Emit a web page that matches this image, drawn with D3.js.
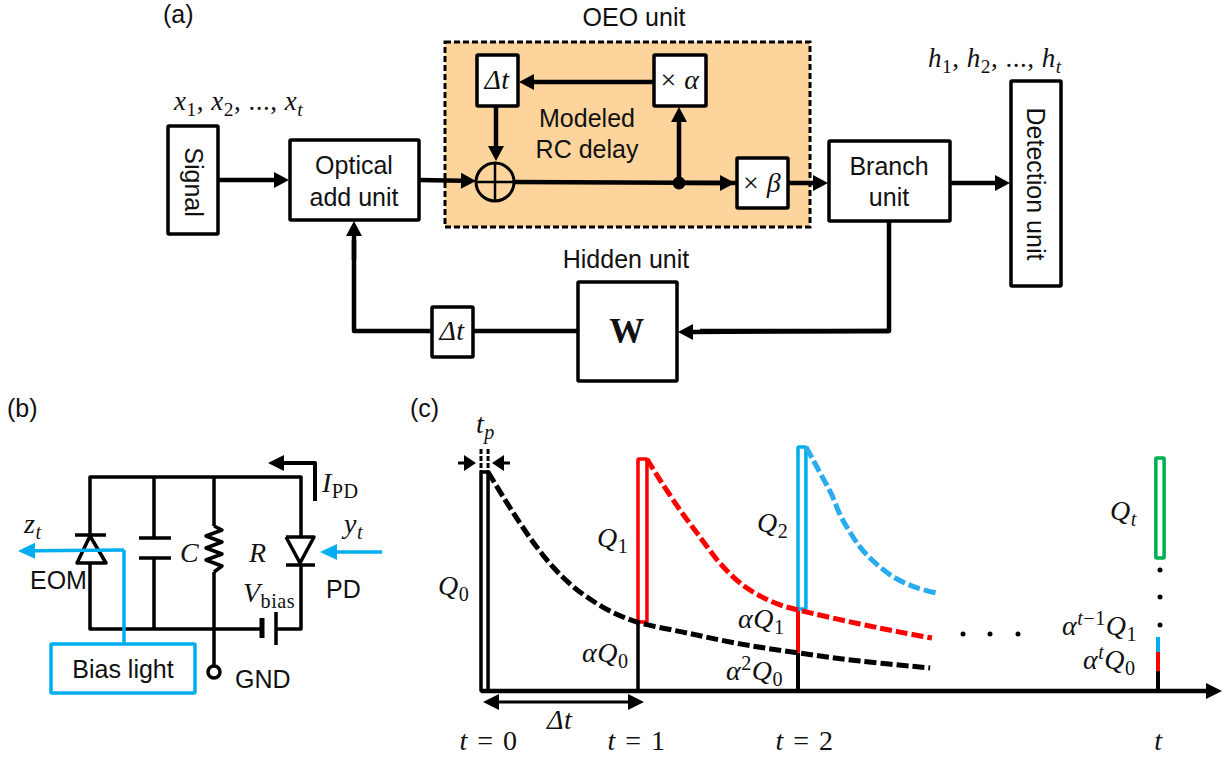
<!DOCTYPE html>
<html>
<head>
<meta charset="utf-8">
<script src="https://cdnjs.cloudflare.com/ajax/libs/d3/7.8.5/d3.min.js"></script>
<style>
html, body { margin: 0; padding: 0; background: #fff; }
svg { display: block; }
text { font-family: "Liberation Sans", Arial, sans-serif; font-size: 25px; fill: #111; }
.m, .m tspan { font-family: "Liberation Serif", serif; letter-spacing: 0.5px; }
</style>
</head>
<body>
<svg id="fig" width="1225" height="758"></svg>
<script>
'use strict';

// panel (c): time axis, t index 3 is the far "t" tick (axis is broken after t = 2)
var tickTimes = [0, 1, 2, 3];
var tickLabels = ['t = 0', 't = 1', 't = 2', 't'];

// decay curves, charge normalised to Q0 = 1
var blackTimes = [0.045, 0.146, 0.248, 0.35, 0.459, 0.567, 0.675, 0.822, 0.994, 1.306, 1.638, 2, 2.172, 2.367];
var blackCharge = [1, 0.881, 0.767, 0.662, 0.566, 0.489, 0.429, 0.365, 0.315, 0.265, 0.215, 0.174, 0.137, 0.105];
var redTimes = [1.056, 1.138, 1.263, 1.369, 1.512, 1.638, 1.763, 1.888, 2, 2.172, 2.283, 2.372];
var redCharge = [1.059, 0.963, 0.826, 0.721, 0.584, 0.493, 0.434, 0.393, 0.37, 0.306, 0.269, 0.242];
var blueTimes = [2.022, 2.042, 2.069, 2.094, 2.117, 2.144, 2.172, 2.2, 2.228, 2.261, 2.297, 2.333, 2.386];
var blueCharge = [1.114, 1.055, 0.973, 0.895, 0.804, 0.726, 0.658, 0.607, 0.566, 0.525, 0.493, 0.47, 0.447];

// pulses: start time, end time, bottom and top charge
var pulseStart = [0, 1, 2, 2.994];
var pulseEnd = [0.045, 1.056, 2.022, 3.017];
var pulseLow = [0, 0.315, 0.374, 0.607];
var pulseHigh = [1, 1.059, 1.114, 1.064];

// stacked stems under the later pulses
var stem1Levels = [0, 0.315];
var stem2Levels = [0, 0.174, 0.374];
var stem3Levels = [0, 0.091, 0.178, 0.247];

var svg = d3.select('#fig');
var BLUE = '#00aeef', RED = '#ff0000', GREEN = '#00b050', BLACK = '#000', ORANGE = '#fdd49b';
var MATH = 28;

var defsLine = d3.line();

function line(g, pts, w, col) {
    return g.append('path').attr('d', defsLine(pts)).attr('fill', 'none')
        .attr('stroke', col || BLACK).attr('stroke-width', w || 4.5)
        .attr('stroke-linejoin', 'round');
}

// straight arrow with solid head; tip lands on the last point
function arrow(g, pts, w, col, len, half) {
    col = col || BLACK; len = len || 15; half = half || 8;
    var n = pts.length, a = pts[n - 2], b = pts[n - 1],
        d = Math.hypot(b[0] - a[0], b[1] - a[1]),
        ux = (b[0] - a[0]) / d, uy = (b[1] - a[1]) / d,
        base = [b[0] - ux * len, b[1] - uy * len],
        shaft = pts.slice(0, n - 1).concat([[base[0] + ux, base[1] + uy]]);
    line(g, shaft, w || 4.5, col);
    g.append('path').attr('fill', col).attr('d', defsLine([
        b,
        [base[0] - uy * half, base[1] + ux * half],
        [base[0] + uy * half, base[1] - ux * half]
    ]) + 'Z');
}

function box(g, x0, y0, x1, y1, col, w) {
    return g.append('rect').attr('x', x0).attr('y', y0).attr('width', x1 - x0).attr('height', y1 - y0)
        .attr('rx', 1).attr('fill', '#fff').attr('stroke', col || BLACK).attr('stroke-width', w || 3.5);
}

function label(g, s, x, y, anchor, rot) {
    var t = g.append('text').attr('text-anchor', anchor || 'middle').text(s);
    if (rot) t.attr('transform', 'translate(' + x + ',' + y + ') rotate(' + rot + ')');
    else t.attr('x', x).attr('y', y);
    return t;
}

// small math markup: _{..} sub, ^{..} sup, _[..] upright sub; letters italic
function mathInto(t, s, size) {
    var re = /([_^])([{\[])([^}\]]*)[}\]]|[^_^]+/g, m, shift = 0;
    var add = function(str, fs, dy, upright) {
        str.split(/(\s+)/).forEach(function(chunk) {
            if (!chunk) return;
            chunk.match(/[A-Za-zαβΔ]+|[^A-Za-zαβΔ]+/g).forEach(function(p) {
                var sp = t.append('tspan').attr('xml:space', 'preserve').text(p);
                sp.style('font-size', fs + 'px');
                if (!upright && /[A-Za-zαβΔ]/.test(p)) sp.attr('font-style', 'italic');
                if (dy) { sp.attr('dy', dy); dy = 0; }
            });
        });
    };
    while ((m = re.exec(s))) {
        if (m[1]) {
            var off = m[1] === '_' ? size * 0.22 : -size * 0.34;
            add(m[3], size * 0.72, off, m[2] === '[');
            shift = off;
        } else {
            add(m[0], size, -shift, false);
            shift = 0;
        }
    }
}

function math(g, s, x, y, size, anchor) {
    var t = g.append('text').attr('class', 'm').attr('x', x).attr('y', y)
        .attr('text-anchor', anchor || 'start');
    mathInto(t, s, size || MATH);
    return t;
}

/* ================ panel (a) */
var a = svg.append('g');
label(a, '(a)', 163, 23, 'start');

a.append('rect').attr('x', 445).attr('y', 42).attr('width', 365).attr('height', 185)
    .attr('fill', ORANGE).attr('stroke', BLACK).attr('stroke-width', 3).attr('stroke-dasharray', '6 3');
label(a, 'OEO unit', 634, 26);

// connectors go under the boxes
arrow(a, [[218, 180], [289, 180]]);
arrow(a, [[419, 180], [476, 181]]);
line(a, [[514, 182], [737, 183]]);
arrow(a, [[679, 183], [735, 183]]);
arrow(a, [[679, 183], [679, 107]]);
arrow(a, [[654, 82], [519, 82]]);
arrow(a, [[496, 106], [496, 161]]);
arrow(a, [[788, 183], [828, 183]]);
arrow(a, [[950, 183], [1010, 183]]);
line(a, [[889, 221], [889, 331], [700, 331]]);
arrow(a, [[889, 331], [678, 332]]);
line(a, [[578, 331], [354, 331], [354, 240]]);
arrow(a, [[354, 260], [354, 221]]);

a.append('circle').attr('cx', 679).attr('cy', 183).attr('r', 6.5).attr('fill', BLACK);
a.append('circle').attr('cx', 495).attr('cy', 182).attr('r', 19)
    .attr('fill', ORANGE).attr('stroke', BLACK).attr('stroke-width', 3);
line(a, [[477, 182], [513, 182]], 2.5);
line(a, [[495, 164], [495, 200]], 2.5);

box(a, 168, 126, 218, 234);
box(a, 290, 140, 419, 220);
box(a, 477, 55, 518, 106);
box(a, 654, 55, 706, 106);
box(a, 737, 158, 788, 208);
box(a, 829, 141, 950, 221);
box(a, 1011, 81, 1061, 286);
box(a, 578, 282, 677, 381);
box(a, 432, 307, 473, 357);

label(a, 'Signal', 185, 182, 'middle', 90);
label(a, 'Detection unit', 1027, 184, 'middle', 90);
label(a, 'Optical', 354, 174);
label(a, 'add unit', 354, 206);
label(a, 'Modeled', 587, 127);
label(a, 'RC delay', 587, 158);
label(a, 'Branch', 889, 175);
label(a, 'unit', 889, 206);
label(a, 'Hidden unit', 626, 268);

math(a, 'x_{1}, x_{2}, ..., x_{t}', 174, 110, 27);
math(a, 'h_{1}, h_{2}, ..., h_{t}', 928, 67, 27);
math(a, 'Δt', 497, 89, MATH, 'middle');
math(a, 'Δt', 452, 340, MATH, 'middle');
math(a, '× α', 680, 89, MATH, 'middle');
math(a, '× β', 762, 192, MATH, 'middle');
a.append('text').attr('class', 'm').attr('x', 627).attr('y', 343).attr('text-anchor', 'middle')
    .style('font-size', '35px').attr('font-weight', 'bold').text('W');

/* ================ panel (b) */
var b = svg.append('g');
label(b, '(b)', 7, 417, 'start');

line(b, [[90, 535], [90, 477], [301, 477], [301, 537]], 3.5);
line(b, [[90, 563], [90, 629], [262, 629]], 3.5);
line(b, [[276, 629], [301, 629], [301, 565]], 3.5);
line(b, [[154, 477], [154, 538]], 3.5);
line(b, [[154, 558], [154, 629]], 3.5);
line(b, [[214, 477], [214, 526]], 3.5);
line(b, [[214, 526], [222, 530], [206, 536], [222, 542], [206, 548], [222, 554], [206, 560], [222, 566], [214, 572]], 3.5);
line(b, [[214, 572], [214, 665]], 3.5);
b.append('circle').attr('cx', 214).attr('cy', 672).attr('r', 6)
    .attr('fill', '#fff').attr('stroke', BLACK).attr('stroke-width', 3.5);

line(b, [[75, 535], [106, 535]], 3.5);
line(b, [[90, 536], [77, 563], [106, 563], [90, 536]], 3.5);
line(b, [[139, 538], [171, 538]], 3.5);
line(b, [[139, 558], [171, 558]], 3.5);
line(b, [[286, 565], [315, 565]], 3.5);
line(b, [[286, 537], [314, 537], [300, 563], [286, 537]], 3.5);
b.append('path').attr('d', 'M262,618V638').attr('stroke', BLACK).attr('stroke-width', 5);
b.append('path').attr('d', 'M276,612V645').attr('stroke', BLACK).attr('stroke-width', 3.5);
arrow(b, [[315, 501], [315, 463], [268, 463]], 4, BLACK, 16, 8);

line(b, [[124, 644], [124, 550]], 3.5, BLUE);
arrow(b, [[124, 550], [18, 551]], 3.5, BLUE, 17, 8);
arrow(b, [[382, 552], [320, 552]], 3.5, BLUE, 17, 8);
box(b, 51, 644, 195, 693, BLUE);

label(b, 'Bias light', 123, 678);
label(b, 'EOM', 30, 589, 'start');
label(b, 'PD', 326, 598, 'start');
label(b, 'GND', 235, 688, 'start');
math(b, 'z_{t}', 24, 533);
math(b, 'y_{t}', 344, 533);
math(b, 'C', 180, 562);
math(b, 'R', 249, 562);
math(b, 'I_[PD]', 322, 492);
math(b, 'V_[bias]', 243, 602);

/* ================ panel (c) */
var c = svg.append('g');
label(c, '(c)', 410, 417, 'start');

var x = d3.scaleLinear().domain(tickTimes).range([481, 638, 798, 1158]),
    y = d3.scaleLinear().domain([0, 1]).range([691, 472]);

var curve = d3.line()
    .x(function(d) { return x(d[0]); })
    .y(function(d) { return y(d[1]); })
    .curve(d3.curveCatmullRom);

// stacked stems
function stem(time, levels, cols, w) {
    cols.forEach(function(col, i) {
        c.append('line').attr('x1', x(time)).attr('x2', x(time))
            .attr('y1', y(levels[i])).attr('y2', y(levels[i + 1]))
            .attr('stroke', col).attr('stroke-width', w);
    });
}
stem(1, stem1Levels, [BLACK], 3.5);
stem(2, stem2Levels, [BLACK, RED], 4);
stem(3, stem3Levels, [BLACK, RED, BLUE], 4);

// pulses
var pulseCols = [BLACK, RED, BLUE, GREEN];
pulseStart.forEach(function(t0, i) {
    c.append('rect')
        .attr('x', x(t0)).attr('width', x(pulseEnd[i]) - x(t0))
        .attr('y', y(pulseHigh[i])).attr('height', y(pulseLow[i]) - y(pulseHigh[i]))
        .attr('fill', '#fff').attr('stroke', pulseCols[i]).attr('stroke-width', 3.5)
        .attr('rx', 1);
});

// decay curves
[[blueTimes, blueCharge, '#29abf2'], [redTimes, redCharge, RED], [blackTimes, blackCharge, BLACK]].forEach(function(s) {
    c.append('path').datum(d3.zip(s[0], s[1])).attr('d', curve)
        .attr('fill', 'none').attr('stroke', s[2]).attr('stroke-width', 5)
        .attr('stroke-dasharray', '12 4');
});

// dashed tp markers above the first pulse
[pulseStart[0], pulseEnd[0]].forEach(function(t) {
    c.append('line').attr('x1', x(t)).attr('x2', x(t)).attr('y1', 449).attr('y2', y(1))
        .attr('stroke', BLACK).attr('stroke-width', 3).attr('stroke-dasharray', '5 2');
});
arrow(c, [[458, 463], [476, 463]], 3, BLACK, 12, 8);
arrow(c, [[510, 463], [492, 463]], 3, BLACK, 12, 8);

// time axis
var labelShift = [7, -2, 6, 0];
var axis = d3.axisBottom(x).tickValues(tickTimes).tickSize(0).tickPadding(41)
    .tickFormat(function(d, i) { return tickLabels[i]; });
var axG = c.append('g').attr('transform', 'translate(0,' + y(0) + ')').call(axis);
axG.select('.domain').remove();
axG.selectAll('.tick text').each(function(d, i) {
    var t = d3.select(this), s = t.text();
    t.text('').attr('class', 'm').attr('fill', null).attr('x', labelShift[i]).style('word-spacing', '2px');
    mathInto(t, s, MATH);
});
arrow(c, [[x(0), y(0)], [1222, y(0)]], 4.5, BLACK, 16, 8);
line(c, [[495, 702], [630, 702]], 3);
arrow(c, [[495, 702], [483, 702]], 3, BLACK, 16, 8);
arrow(c, [[628, 702], [644, 702]], 3, BLACK, 16, 8);

// ellipsis dots
[[963, 634], [990, 634], [1018, 634], [1160, 570], [1160, 597], [1160, 625]].forEach(function(p) {
    c.append('circle').attr('cx', p[0]).attr('cy', p[1]).attr('r', 2.5).attr('fill', BLACK);
});

math(c, 't_{p}', 476, 433);
math(c, 'Q_{0}', 438, 595);
math(c, 'Q_{1}', 597, 547);
math(c, 'Q_{2}', 757, 532);
math(c, 'αQ_{0}', 582, 662);
math(c, 'αQ_{1}', 738, 628);
math(c, 'α^{2}Q_{0}', 726, 680);
math(c, 'Δt', 547, 729);
math(c, 'Q_{t}', 1110, 520);
math(c, 'α^{t−1}Q_{1}', 1062, 635);
math(c, 'α^{t}Q_{0}', 1083, 669);
</script>
</body>
</html>
